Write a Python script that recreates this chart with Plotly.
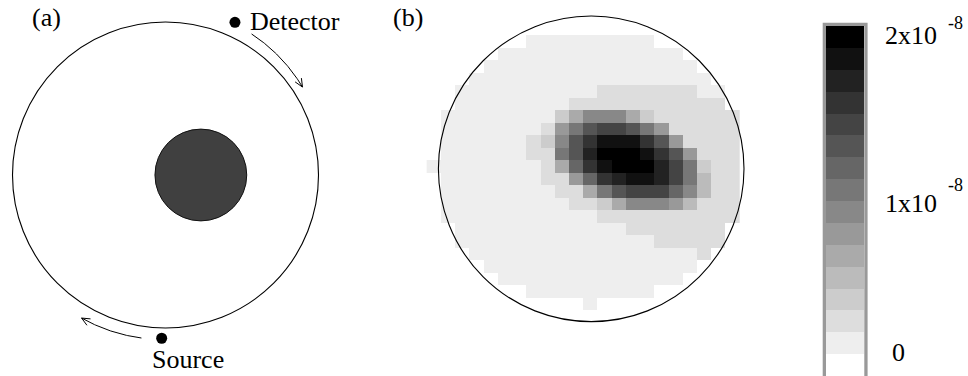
import numpy as np
import plotly.graph_objects as go

W, H = 968, 376

# ---------------------------------------------------------------------------
# Data
# ---------------------------------------------------------------------------
# Reconstructed image on a 22 x 22 grid, top row first.  Each character is a
# shade level 0..f (hex), 0 = empty, f = maximum intensity.
SHADE_ROWS = [
    "0000000111111111000000",
    "0000011111111111110000",
    "0000111111111111111000",
    "0001111111111111111100",
    "0011111111112222222110",
    "0011111111222222222220",
    "0111111113577753222222",
    "01111111268abba8622222",
    "0111111237aceeeca62222",
    "0111111228adfffeca6222",
    "11111111259cefffdb8322",
    "011111112269cdeedb8422",
    "0111111112258abbb97422",
    "0111111111223577764222",
    "0111111111112222222222",
    "0011111111111122222220",
    "0011111111111111222220",
    "0001111111111111111200",
    "0000111111111111111000",
    "0000011111111111110000",
    "0000000111111111000000",
    "0000000000010000000000",
]
GRID_COLS = list(range(22))
GRID_ROWS = list(range(22))

# Sixteen grey levels of the colour scale, lowest first
LEVEL_COLORS = [
    "#ffffff", "#eeeeee", "#dddddd", "#cccccc", "#bbbbbb", "#aaaaaa",
    "#999999", "#888888", "#777777", "#666666", "#555555", "#444444",
    "#333333", "#222222", "#111111", "#000000",
]
LEVELS = list(range(16))

# Colour-bar labels (mantissa, exponent) and the pixel row of each label
CBAR_MANTISSA = ["2x10", "1x10", "0"]
CBAR_EXPONENT = ["-8", "-8", ""]
CBAR_LABEL_Y = [35, 203, 352]
CBAR_EXP_Y = [23, 185, None]
CBAR_LABEL_LEFT = [883, 883, 890]
CBAR_EXP_LEFT = 946

# ---------------------------------------------------------------------------
# Helpers
# ---------------------------------------------------------------------------
def px(x):
    return x / W


def py(y):
    return 1 - y / H


levels = [[int(ch, 16) for ch in row] for row in SHADE_ROWS]

colorscale = []
n = len(LEVEL_COLORS)
for k, c in enumerate(LEVEL_COLORS):
    colorscale.append([k / n, c])
    colorscale.append([(k + 1) / n, c])

FONT = "Liberation Serif"
fig = go.Figure()

# ---------------------------------------------------------------------------
# Panel (a): measurement geometry.  Units: outer circle radius = 1 (153 px)
# ---------------------------------------------------------------------------
A_CX, A_CY, A_R = 165.5, 175.0, 153.0
A_DOM = (0, 400)
a_xrange = [(A_DOM[0] - A_CX) / A_R, (A_DOM[1] - A_CX) / A_R]
a_yrange = [(A_CY - H) / A_R, A_CY / A_R]

INNER_CENTER = (0.231, 0.0)
INNER_RADIUS = 0.30
DETECTOR_POS = (0.454, 0.998)
SOURCE_POS = (-0.025, -1.067)
# arcs: (radius at start, angle at start, radius at end, angle at end), degrees
DETECTOR_ARC = (1.08, 58.6, 1.064, 32.7)
SOURCE_ARC = (1.077, -98.4, 1.084, -120.4)
HEAD_LEN = 9.0 / A_R          # arrowhead arm length
HEAD_HALF_ANGLE = np.radians(24)


def arc_with_head(spec, n=80):
    r0, a0, r1, a1 = spec
    t = np.linspace(0, 1, n)
    r = r0 + (r1 - r0) * t
    a = np.radians(a0 + (a1 - a0) * t)
    xs, ys = r * np.cos(a), r * np.sin(a)
    # direction of travel at the tip
    dx, dy = xs[-1] - xs[-2], ys[-1] - ys[-2]
    norm = np.hypot(dx, dy)
    dx, dy = dx / norm, dy / norm
    tip = (xs[-1], ys[-1])
    arms = []
    for s in (1, -1):
        c, sn = np.cos(s * HEAD_HALF_ANGLE), np.sin(s * HEAD_HALF_ANGLE)
        bx, by = -(dx * c - dy * sn), -(dx * sn + dy * c)
        arms.append((tip[0] + HEAD_LEN * bx, tip[1] + HEAD_LEN * by))
    hx = [None, arms[0][0], tip[0], arms[1][0]]
    hy = [None, arms[0][1], tip[1], arms[1][1]]
    return list(xs) + hx, list(ys) + hy


for spec in (DETECTOR_ARC, SOURCE_ARC):
    xs, ys = arc_with_head(spec)
    fig.add_trace(go.Scatter(x=xs, y=ys, mode="lines",
                             line=dict(color="black", width=1),
                             xaxis="x", yaxis="y", hoverinfo="skip",
                             showlegend=False))

fig.add_trace(go.Scatter(x=[DETECTOR_POS[0], SOURCE_POS[0]],
                         y=[DETECTOR_POS[1], SOURCE_POS[1]],
                         mode="markers",
                         marker=dict(color="black", size=11),
                         xaxis="x", yaxis="y", hoverinfo="skip",
                         showlegend=False))

# ---------------------------------------------------------------------------
# Panel (b): reconstructed image
# ---------------------------------------------------------------------------
GRID_LEFT, GRID_RIGHT = 426.7, 740.0
GRID_TOP, GRID_BOTTOM = 35.0, 310.0
col_w = (GRID_RIGHT - GRID_LEFT) / len(GRID_COLS)
row_h = (GRID_BOTTOM - GRID_TOP) / len(GRID_ROWS)
B_DOM_X = (420, 760)
B_DOM_Y = (0, 340)
b_xrange = [-0.5 + (B_DOM_X[0] - GRID_LEFT) / col_w,
            -0.5 + (B_DOM_X[1] - GRID_LEFT) / col_w]
b_yrange = [-0.5 + (B_DOM_Y[1] - GRID_TOP) / row_h,
            -0.5 + (B_DOM_Y[0] - GRID_TOP) / row_h]

B_CX, B_CY, B_R = 591.2, 168.8, 152.8
b_cx = -0.5 + (B_CX - GRID_LEFT) / col_w
b_cy = -0.5 + (B_CY - GRID_TOP) / row_h
b_rx = B_R / col_w
b_ry = B_R / row_h

fig.add_trace(go.Heatmap(z=levels, x=GRID_COLS, y=GRID_ROWS,
                         colorscale=colorscale, zmin=-0.5, zmax=15.5,
                         showscale=False, xaxis="x2", yaxis="y2",
                         hoverinfo="skip"))

# ---------------------------------------------------------------------------
# Colour bar (drawn as its own one-column heatmap)
# ---------------------------------------------------------------------------
CB_LEFT, CB_RIGHT, CB_TOP = 826.0, 864.3, 26.0
fig.add_trace(go.Heatmap(z=[[k] for k in LEVELS], x=[0], y=LEVELS,
                         colorscale=colorscale, zmin=-0.5, zmax=15.5,
                         showscale=False, xaxis="x3", yaxis="y3",
                         hoverinfo="skip"))

# ---------------------------------------------------------------------------
# Shapes
# ---------------------------------------------------------------------------
shapes = [
    dict(type="circle", xref="x", yref="y", x0=-1, x1=1, y0=-1, y1=1,
         line=dict(color="black", width=1.1)),
    dict(type="circle", xref="x", yref="y",
         x0=INNER_CENTER[0] - INNER_RADIUS, x1=INNER_CENTER[0] + INNER_RADIUS,
         y0=INNER_CENTER[1] - INNER_RADIUS, y1=INNER_CENTER[1] + INNER_RADIUS,
         fillcolor="#404040", line=dict(color="#111111", width=1)),
    dict(type="circle", xref="x2", yref="y2",
         x0=b_cx - b_rx, x1=b_cx + b_rx, y0=b_cy - b_ry, y1=b_cy + b_ry,
         line=dict(color="black", width=1.1)),
    dict(type="rect", xref="paper", yref="paper",
         x0=px(CB_LEFT - 1.65), x1=px(CB_RIGHT + 1.65),
         y0=py(H + 4), y1=py(CB_TOP - 1.65),
         line=dict(color="#999999", width=3.3)),
]

# ---------------------------------------------------------------------------
# Annotations
# ---------------------------------------------------------------------------
txt = dict(family=FONT, size=26, color="black")
small = dict(family=FONT, size=18, color="black")
annotations = [
    dict(text="(a)", xref="paper", yref="paper", x=px(46), y=py(17),
         xanchor="center", yanchor="middle", showarrow=False, font=txt),
    dict(text="(b)", xref="paper", yref="paper", x=px(408), y=py(17),
         xanchor="center", yanchor="middle", showarrow=False, font=txt),
    dict(text="Detector", xref="x", yref="y", x=(247.7 - A_CX) / A_R,
         y=(A_CY - 21) / A_R, xanchor="left", yanchor="middle",
         showarrow=False, font=txt),
    dict(text="Source", xref="x", yref="y", x=(187.5 - A_CX) / A_R,
         y=(A_CY - 359) / A_R, xanchor="center", yanchor="middle",
         showarrow=False, font=txt),
]

for mant, expo, ly, ey, left in zip(CBAR_MANTISSA, CBAR_EXPONENT,
                                    CBAR_LABEL_Y, CBAR_EXP_Y,
                                    CBAR_LABEL_LEFT):
    annotations.append(dict(text=mant, xref="paper", yref="paper",
                            x=px(left), y=py(ly), xanchor="left",
                            yanchor="middle", showarrow=False, font=txt))
    if expo:
        annotations.append(dict(text=expo, xref="paper", yref="paper",
                                x=px(CBAR_EXP_LEFT), y=py(ey),
                                xanchor="left", yanchor="middle",
                                showarrow=False, font=small))

hidden = dict(visible=False, showgrid=False, zeroline=False)
fig.update_layout(
    width=W, height=H,
    margin=dict(l=0, r=0, t=0, b=0),
    paper_bgcolor="white", plot_bgcolor="white",
    template="none",
    showlegend=False,
    xaxis=dict(domain=[px(A_DOM[0]), px(A_DOM[1])], range=a_xrange, **hidden),
    yaxis=dict(domain=[0, 1], range=a_yrange, **hidden),
    xaxis2=dict(domain=[px(B_DOM_X[0]), px(B_DOM_X[1])], range=b_xrange,
                **hidden),
    yaxis2=dict(domain=[py(B_DOM_Y[1]), py(B_DOM_Y[0])], range=b_yrange,
                **hidden),
    xaxis3=dict(domain=[px(CB_LEFT), px(CB_RIGHT)], range=[-0.5, 0.5],
                **hidden),
    yaxis3=dict(domain=[0, py(CB_TOP)], range=[-0.5, 15.5], **hidden),
    shapes=shapes,
    annotations=annotations,
)

fig.write_html("out.html")
